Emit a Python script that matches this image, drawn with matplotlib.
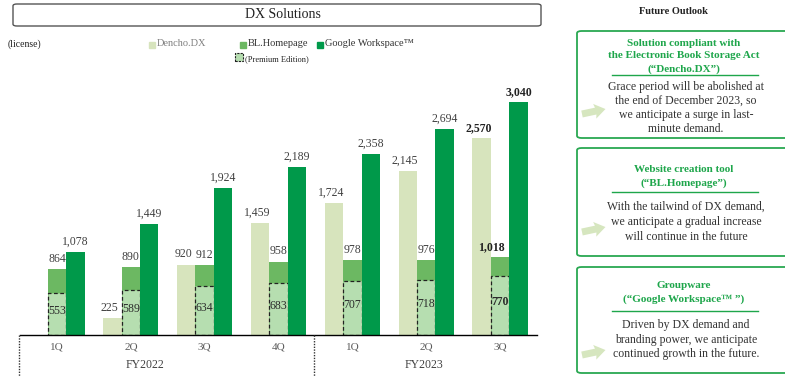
import numpy as np
import matplotlib.pyplot as plt
from matplotlib.patches import FancyBboxPatch, Rectangle, Polygon
from matplotlib.lines import Line2D

plt.rcParams['font.family'] = ['Liberation Serif', 'DejaVu Serif']

quarters = ["1Q", "2Q", "3Q", "4Q", "1Q", "2Q", "3Q"]
years = ["FY2022", "FY2023"]
dencho = [np.nan, 225, 920, 1459, 1724, 2145, 2570]
bl_home = [864, 890, 912, 958, 978, 976, 1018]
bl_premium = [553, 589, 634, 683, 707, 718, 770]
google = [1078, 1449, 1924, 2189, 2358, 2694, 3040]

c_dencho = "#d7e4bd"
c_bl = "#6cb862"
c_prem = "#b6deb0"
c_google = "#00994a"
c_head = "#1ea64b"
c_text = "#404040"

W, H = 785, 376
fig = plt.figure(figsize=(W / 100, H / 100), dpi=100)


def fx(x):
    return x / W


def fy(y):
    return 1 - y / H


# main bar axes (pixel layout)
ax = fig.add_axes([fx(20), fy(335), (537 - 20) / W, (335 - 40) / H])
x = np.arange(len(quarters))
bw = 0.25
ax.bar(x - bw, dencho, bw, color=c_dencho)
ax.bar(x, bl_home, bw, color=c_bl)
ax.bar(x, bl_premium, bw, color=c_prem, edgecolor="#222222", linestyle=(0, (3, 2)), linewidth=0.9)
ax.bar(x + bw, google, bw, color=c_google)
ax.set_xlim(-0.5, 6.5)
ax.set_ylim(0, 3850)
ax.set_yticks([])
ax.set_xticks([])
for s in ["top", "left", "right"]:
    ax.spines[s].set_visible(False)
ax.spines["bottom"].set_linewidth(1.0)

for i in range(len(quarters)):
    bold = "bold" if i == len(quarters) - 1 else "normal"
    col = "#222222" if bold == "bold" else c_text
    if not np.isnan(dencho[i]):
        ax.annotate(f"{dencho[i]:,.0f}", (x[i] - bw, dencho[i]), xytext=(-2, 3),
                    textcoords="offset points", ha="center", va="bottom",
                    fontsize=8.5, color=col, fontweight=bold)
    ax.annotate(f"{bl_home[i]:,}", (x[i], bl_home[i]), xytext=(0 if i < 6 else -6, 3),
                textcoords="offset points", ha="center", va="bottom",
                fontsize=8.5, color=col, fontweight=bold)
    ax.text(x[i], bl_premium[i] / 2 + 40, f"{bl_premium[i]}", ha="center", va="center",
            fontsize=8.5, color="#2a2a2a", fontweight=bold)
    ax.annotate(f"{google[i]:,}", (x[i] + bw, google[i]), xytext=(0, 3),
                textcoords="offset points", ha="center", va="bottom",
                fontsize=8.5, color=col, fontweight=bold)

# quarter and year labels under the axis
for i, q in enumerate(quarters):
    fig.text(fx(57 + 73.9 * i), fy(347), q, ha="center", va="center", fontsize=8, color="#595959")
fig.text(fx(145), fy(365), years[0], ha="center", va="center", fontsize=8.5, color="#404040")
fig.text(fx(424), fy(365), years[1], ha="center", va="center", fontsize=8.5, color="#404040")
for xv in [19, 314]:
    fig.add_artist(Line2D([fx(xv), fx(xv)], [fy(335), fy(376)], color="#333333",
                          linestyle=(0, (1, 1)), linewidth=1.0))

# title box
fig.add_artist(FancyBboxPatch((fx(13), fy(26)), fx(541 - 13), (26 - 4) / H,
                              boxstyle="round,pad=0,rounding_size=0.005",
                              facecolor="white", edgecolor="#555555", linewidth=1.0))
fig.text(fx(283), fy(14), "DX Solutions", ha="center", va="center", fontsize=10, color="#222222")

# legend
fig.text(fx(8), fy(44), "(license)", ha="left", va="center", fontsize=7, color="#222222")
legend_items = [(152, "Dencho.DX", c_dencho, "#808080"),
                (243, "BL.Homepage", c_bl, "#333333"),
                (320, "Google Workspace\u2122", c_google, "#333333")]
for lx, lab, col, tcol in legend_items:
    fig.add_artist(Rectangle((fx(lx - 3), fy(47.5)), 6 / W, 6 / H, color=col))
    fig.text(fx(lx + 5), fy(44), lab, ha="left", va="center", fontsize=7.5, color=tcol)
fig.add_artist(Rectangle((fx(235), fy(61)), 8 / W, 8 / H, facecolor=c_prem,
                         edgecolor="#222222", linestyle=(0, (2, 1)), linewidth=0.8))
fig.text(fx(245), fy(59), "(Premium Edition)", ha="left", va="center", fontsize=6, color="#222222")

# right panel
fig.text(fx(673), fy(12), "Future Outlook", ha="center", va="center", fontsize=7.5,
         fontweight="bold", color="#222222")

boxes = [
    (31, 138, ["Solution compliant with", "the Electronic Book Storage Act", "(\u201cDencho.DX\u201d)"],
     [43, 56, 69], 75,
     ["Grace period will be abolished at", "the end of December 2023, so",
      "we anticipate a surge in last-", "minute demand."], [87, 101, 115, 129], 110),
    (148, 256, ["Website creation tool", "(\u201cBL.Homepage\u201d)"], [169, 183], 192,
     ["With the tailwind of DX demand,", "we anticipate a gradual increase",
      "will continue in the future"], [207, 222, 237], 228),
    (267, 373, ["Groupware", "(\u201cGoogle Workspace\u2122 \u201d)"], [286, 299], 311,
     ["Driven by DX demand and", "branding power, we anticipate",
      "continued growth in the future."], [325, 340, 354], 351),
]
ang = np.deg2rad(12)
arrow_local = [(0, -3.5), (14, -3.5), (13, -7.5), (24, 0), (13, 7.5), (14, 3.5), (0, 3.5)]
for top, bot, heads, hys, sep, body, bys, ay in boxes:
    fig.add_artist(FancyBboxPatch((fx(577), fy(bot)), fx(800 - 577), (bot - top) / H,
                                  boxstyle="round,pad=0,rounding_size=0.006",
                                  facecolor="white", edgecolor="#2aa852", linewidth=1.3))
    for t, yy in zip(heads, hys):
        fig.text(fx(684), fy(yy), t, ha="center", va="center", fontsize=8,
                 fontweight="bold", color=c_head)
    fig.add_artist(Line2D([fx(612), fx(758)], [fy(sep), fy(sep)], color=c_head, linewidth=1.0))
    for t, yy in zip(body, bys):
        fig.text(fx(686), fy(yy), t, ha="center", va="center", fontsize=8.5, color="#333333")
    # arrow, tilted slightly upward
    pts = []
    for u, v in arrow_local:
        px_ = 582 + u * np.cos(ang) + v * np.sin(ang)
        py_ = ay + 4 - u * np.sin(ang) + v * np.cos(ang)
        pts.append((fx(px_), fy(py_)))
    fig.add_artist(Polygon(pts, closed=True, facecolor="#d6e6bf", edgecolor="none"))

fig.savefig("out.png", dpi=100)
